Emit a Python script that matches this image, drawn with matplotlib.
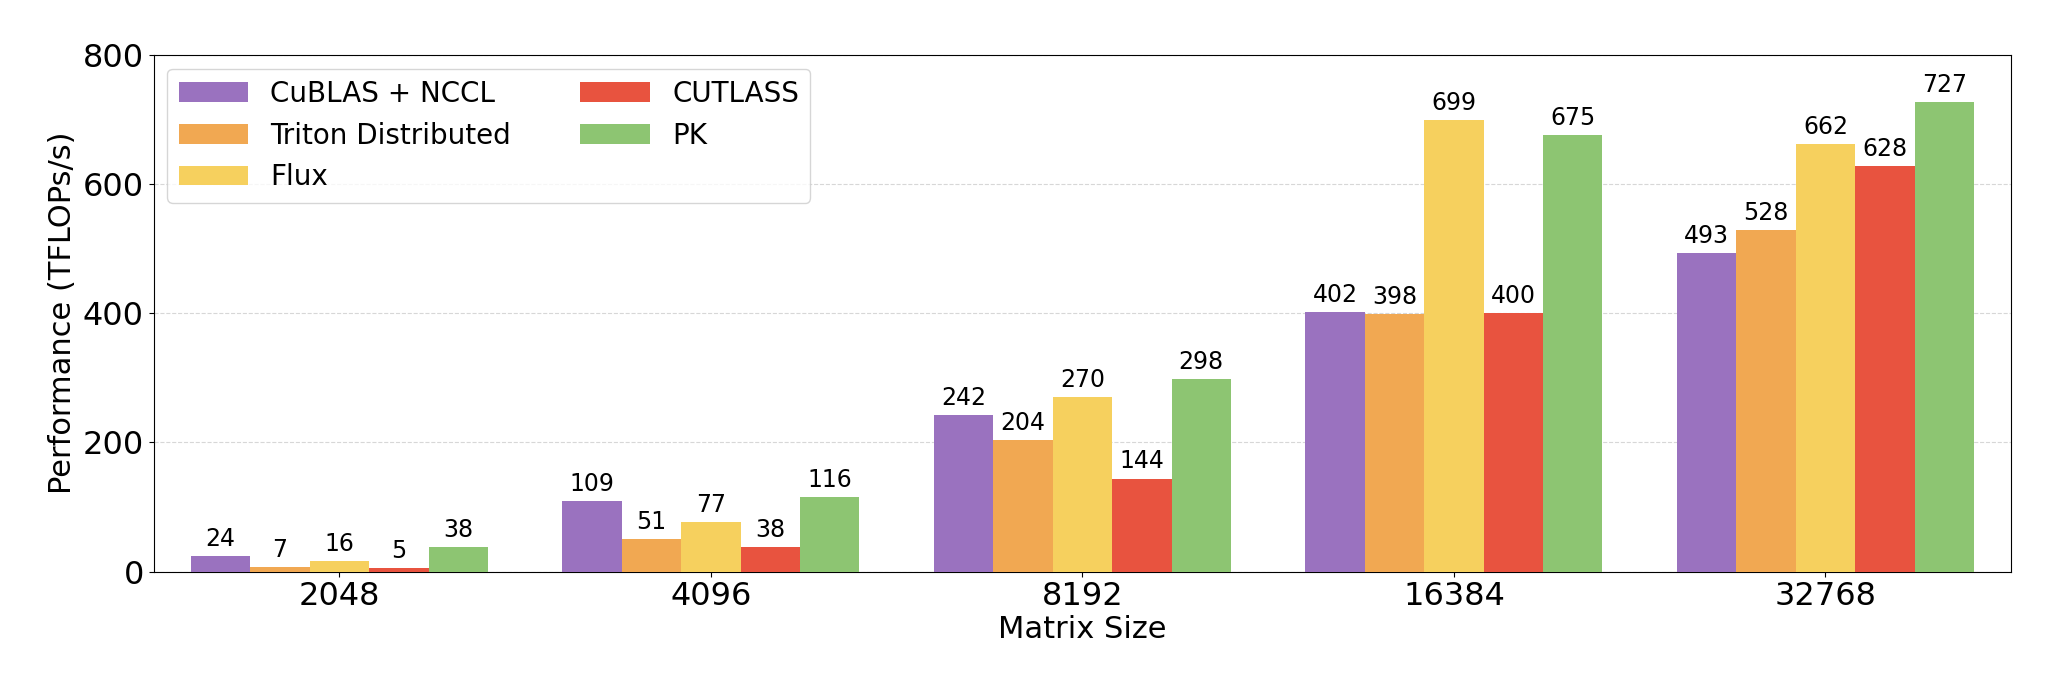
import numpy as np
import matplotlib.pyplot as plt

sizes = ['2048', '4096', '8192', '16384', '32768']
methods = ['CuBLAS + NCCL', 'Triton Distributed', 'Flux', 'CUTLASS', 'PK']
cublas = [24, 109, 242, 402, 493]
triton = [7, 51, 204, 398, 528]
flux = [16, 77, 270, 699, 662]
cutlass = [5, 38, 144, 400, 628]
pk = [38, 116, 298, 675, 727]
colors = ['#9a72bf', '#f1a852', '#f6d05e', '#e8533f', '#8dc572']

fig = plt.figure(figsize=(20.48, 6.75), dpi=100)
ax = fig.add_axes([0.075, 0.153, 0.907, 0.766])

x = np.arange(len(sizes))
w = 0.16
for i, (vals, name) in enumerate(zip([cublas, triton, flux, cutlass, pk], methods)):
    pos = x + (i - 2) * w
    ax.bar(pos, vals, w, color=colors[i], label=name, zorder=3)
    for p, v in zip(pos, vals):
        ax.text(p, v + 8, str(v), ha='center', va='bottom', fontsize=17)

ax.set_xticks(x)
ax.set_xticklabels(sizes, fontsize=23)
ax.tick_params(axis='y', labelsize=23)
ax.set_ylim(0, 800)
ax.set_yticks([0, 200, 400, 600, 800])
ax.set_xlim(-0.5, 4.5)
ax.set_xlabel('Matrix Size', fontsize=22, labelpad=2)
ax.set_ylabel('Performance (TFLOPs/s)', fontsize=22)
ax.grid(axis='y', linestyle='--', alpha=0.5, zorder=0)
ax.legend(loc='upper left', ncol=2, fontsize=20, handlelength=2.5, columnspacing=2.5)

fig.savefig('out.png', dpi=100)
